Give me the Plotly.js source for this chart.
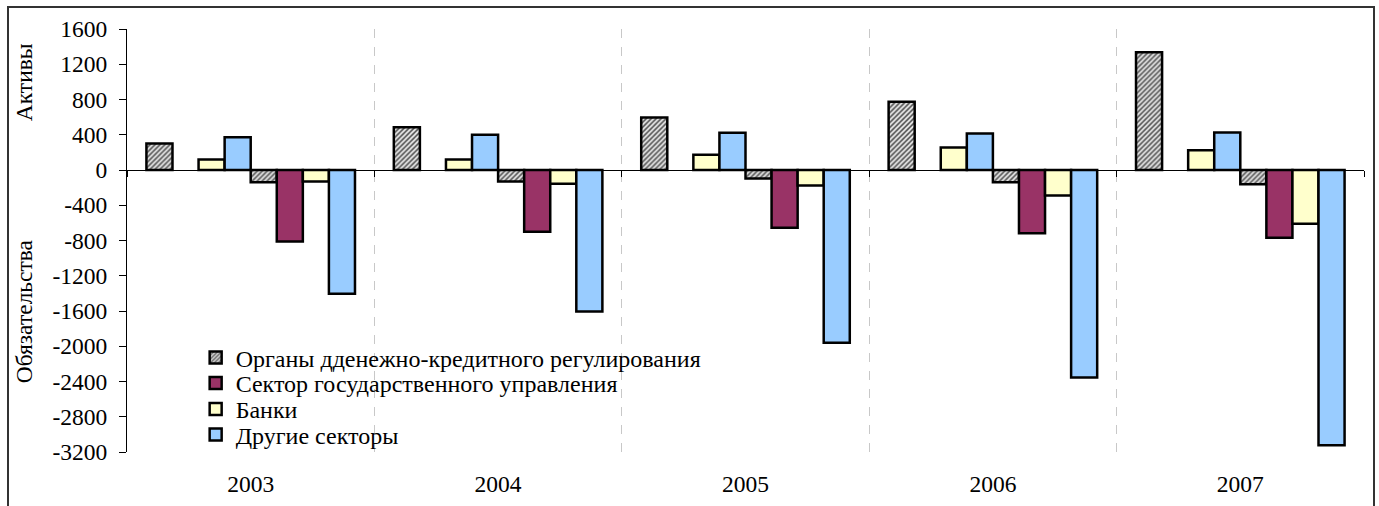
<!DOCTYPE html>
<html>
<head>
<meta charset="utf-8">
<script src="https://cdn.plot.ly/plotly-3.0.1.min.js"></script>
<style>
  html, body { margin: 0; padding: 0; background: #fff; }
  #wrap { position: relative; width: 1379px; height: 506px; overflow: hidden; }
  #chart { position: absolute; left: 0; top: 0; width: 1379px; height: 506px; }
  #frame { position: absolute; left: 7px; top: 6px; width: 1364px; height: 540px; border: 2px solid #333; pointer-events: none; }
</style>
</head>
<body>
<div id="wrap">
  <div id="chart"></div>
  <div id="frame"></div>
</div>
<script>
// Categories (years)
const years = ['2003', '2004', '2005', '2006', '2007'];

// Series names
const seriesNames = [
  'Органы дденежно-кредитного регулирования',
  'Сектор государственного управления',
  'Банки',
  'Другие секторы'
];

// Assets (positive)
const assetsMonetary = [300, 485, 595, 775, 1335];
const assetsGovernment = [null, null, null, null, null];
const assetsBanks = [118, 120, 172, 256, 225];
const assetsOther = [372, 400, 422, 415, 426];

// Liabilities (negative)
const liabMonetary = [-140, -131, -97, -139, -161];
const liabGovernment = [-810, -700, -655, -718, -770];
const liabBanks = [-130, -157, -176, -290, -611];
const liabOther = [-1405, -1605, -1960, -2355, -3122];

// Y axis ticks
const yTicks = [1600, 1200, 800, 400, 0, -400, -800, -1200, -1600, -2000, -2400, -2800, -3200];

const FONT = 'Liberation Serif, serif';
const colors = ['#d9d9d9', '#993366', '#FFFFCC', '#99CCFF'];
const legendIds = ['legend', 'legend2', 'legend3', 'legend4'];

function mk(values, idx, showLegend) {
  const t = {
    type: 'bar',
    x: years,
    y: values,
    name: seriesNames[idx],
    legendgroup: 'g' + idx,
    legend: legendIds[idx],
    showlegend: showLegend,
    hoverinfo: 'x+y+name',
    marker: {
      color: colors[idx],
      line: { color: '#000', width: 2.5 }
    }
  };
  if (idx === 0) {
    t.marker.pattern = { shape: '/', fgcolor: '#505050', bgcolor: '#e6e6e6', size: 3.5, solidity: 0.45 };
  }
  return t;
}

const data = [
  mk(assetsMonetary, 0, true),
  mk(assetsGovernment, 1, true),
  mk(assetsBanks, 2, true),
  mk(assetsOther, 3, true),
  mk(liabMonetary, 0, false),
  mk(liabGovernment, 1, false),
  mk(liabBanks, 2, false),
  mk(liabOther, 3, false)
];

const yMin = -3200, yMax = 1600;

// legend rows: pixel centres of each row converted to paper fraction
const plotTop = 29, plotH = 423;
const legendRowPx = [358, 383.5, 409.5, 435];
function legendCfg(i) {
  return {
    x: 0.0555, xanchor: 'left',
    y: (plotTop + plotH - legendRowPx[i]) / plotH, yanchor: 'middle',
    bgcolor: 'rgba(0,0,0,0)',
    borderwidth: 0,
    font: { family: FONT, size: 24, color: '#000' },
    tracegroupgap: 0,
    itemwidth: 30
  };
}

const layout = {
  width: 1379,
  height: 506,
  margin: { l: 127, r: 15, t: 29, b: 54 },
  paper_bgcolor: '#fff',
  plot_bgcolor: '#fff',
  font: { family: FONT, size: 23.5, color: '#000' },
  barmode: 'group',
  bargap: 0.157,
  bargroupgap: 0,
  showlegend: true,
  legend: legendCfg(0),
  legend2: legendCfg(1),
  legend3: legendCfg(2),
  legend4: legendCfg(3),
  xaxis: {
    type: 'category',
    categoryorder: 'array',
    categoryarray: years,
    anchor: 'free',
    position: (0 - yMin) / (yMax - yMin),
    showline: true,
    linecolor: '#000',
    linewidth: 1,
    ticks: 'outside',
    ticklen: 6,
    tickcolor: '#000',
    tickson: 'boundaries',
    showgrid: true,
    gridcolor: '#c8c8c8',
    griddash: 'dash',
    gridwidth: 1,
    zeroline: false,
    ticklabelstandoff: 293,
    tickfont: { family: FONT, size: 23.5, color: '#000' }
  },
  yaxis: {
    range: [yMin, yMax],
    tickvals: yTicks,
    ticktext: yTicks.map(String),
    showline: true,
    linecolor: '#000',
    linewidth: 1,
    ticks: 'outside',
    ticklen: 7,
    tickcolor: '#000',
    showgrid: false,
    zeroline: false,
    ticklabelstandoff: 7,
    tickfont: { family: FONT, size: 23.5, color: '#000' }
  },
  annotations: [
    {
      text: 'Активы', xref: 'paper', yref: 'y', x: -0.083, y: 1000,
      showarrow: false, textangle: -90, xanchor: 'center', yanchor: 'middle',
      font: { family: FONT, size: 23.5, color: '#000' }
    },
    {
      text: 'Обязательства', xref: 'paper', yref: 'y', x: -0.083, y: -1600,
      showarrow: false, textangle: -90, xanchor: 'center', yanchor: 'middle',
      font: { family: FONT, size: 23.5, color: '#000' }
    }
  ]
};

Plotly.newPlot('chart', data, layout, { displayModeBar: false, staticPlot: true });
</script>
</body>
</html>
